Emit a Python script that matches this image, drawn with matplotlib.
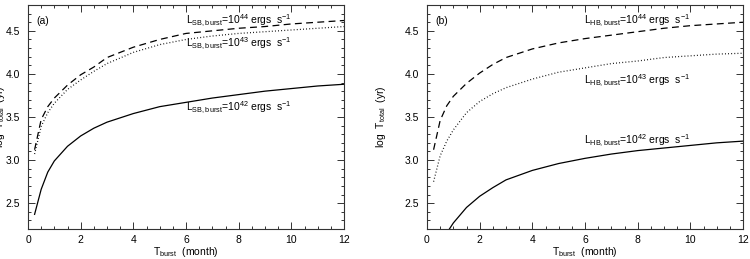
import numpy as np
import matplotlib
matplotlib.use("Agg")
import matplotlib.pyplot as plt
from matplotlib.ticker import MultipleLocator, FormatStrFormatter

plt.rcParams['font.family'] = ['Liberation Sans', 'DejaVu Sans']
plt.rcParams['mathtext.fontset'] = 'custom'
plt.rcParams['mathtext.rm'] = 'Liberation Sans'
plt.rcParams['font.size'] = 7.5

# burst duration (month)
t_burst = [0.25, 0.5, 0.75, 1, 1.5, 2, 2.5, 3, 4, 5, 6, 7, 8, 9, 10, 11, 12]

# panel (a): soft band luminosity
sb_42 = [2.37, 2.66, 2.86, 2.99, 3.16, 3.28, 3.37, 3.44, 3.54, 3.62, 3.67, 3.72, 3.76, 3.80, 3.83, 3.86, 3.88]
sb_43 = [3.07, 3.39, 3.55, 3.66, 3.82, 3.93, 4.03, 4.12, 4.25, 4.34, 4.40, 4.44, 4.47, 4.49, 4.51, 4.53, 4.55]
sb_44 = [3.12, 3.47, 3.62, 3.72, 3.87, 3.99, 4.08, 4.19, 4.31, 4.40, 4.47, 4.50, 4.53, 4.55, 4.58, 4.60, 4.62]

# panel (b): hard band luminosity
hb_43 = [2.75, 3.05, 3.22, 3.35, 3.55, 3.68, 3.77, 3.84, 3.94, 4.02, 4.07, 4.12, 4.15, 4.19, 4.21, 4.23, 4.24]
hb_44 = [3.12, 3.46, 3.63, 3.74, 3.89, 4.01, 4.11, 4.19, 4.29, 4.36, 4.41, 4.45, 4.49, 4.53, 4.56, 4.58, 4.60]
t_burst_hb42 = [0.85, 1, 1.5, 2, 2.5, 3, 4, 5, 6, 7, 8, 9, 10, 11, 12]
hb_42 = [2.20, 2.27, 2.45, 2.58, 2.68, 2.77, 2.88, 2.96, 3.02, 3.07, 3.11, 3.14, 3.17, 3.20, 3.22]

fig = plt.figure(figsize=(7.5, 2.59), dpi=100)
ax_a = fig.add_axes([28 / 750, 30 / 259, 316 / 750, 224 / 259])
ax_b = fig.add_axes([427 / 750, 30 / 259, 316 / 750, 224 / 259])

lw = 0.9
dash = (0, (5.5, 3.5))
dot = (0, (0.7, 1.8))

ax_a.plot(t_burst, sb_42, color='black', lw=lw)
ax_a.plot(t_burst, sb_43, color='black', lw=lw, linestyle=dot)
ax_a.plot(t_burst, sb_44, color='black', lw=lw, linestyle=dash)

ax_b.plot(t_burst_hb42, hb_42, color='black', lw=lw)
ax_b.plot(t_burst, hb_43, color='black', lw=lw, linestyle=dot)
ax_b.plot(t_burst, hb_44, color='black', lw=lw, linestyle=dash)

ax_a.text(6.0, 4.62, r'L$_{\rm SB,burst}$=10$^{44}$ ergs  s$^{-1}$', va='center', fontsize=7.5)
ax_a.text(6.0, 4.35, r'L$_{\rm SB,burst}$=10$^{43}$ ergs  s$^{-1}$', va='center', fontsize=7.5)
ax_a.text(6.0, 3.61, r'L$_{\rm SB,burst}$=10$^{42}$ ergs  s$^{-1}$', va='center', fontsize=7.5)

ax_b.text(5.95, 4.62, r'L$_{\rm HB,burst}$=10$^{44}$ ergs  s$^{-1}$', va='center', fontsize=7.5)
ax_b.text(5.95, 3.92, r'L$_{\rm HB,burst}$=10$^{43}$ ergs  s$^{-1}$', va='center', fontsize=7.5)
ax_b.text(5.95, 3.22, r'L$_{\rm HB,burst}$=10$^{42}$ ergs  s$^{-1}$', va='center', fontsize=7.5)

for ax, tag in [(ax_a, '(a)'), (ax_b, '(b)')]:
    ax.set_xlim(0, 12)
    ax.set_ylim(2.2, 4.8)
    ax.xaxis.set_major_locator(MultipleLocator(2))
    ax.xaxis.set_minor_locator(MultipleLocator(0.5))
    ax.yaxis.set_major_locator(MultipleLocator(0.5))
    ax.yaxis.set_minor_locator(MultipleLocator(0.1))
    ax.yaxis.set_major_formatter(FormatStrFormatter('%.1f'))
    ax.tick_params(which='both', direction='in', top=True, right=True, width=0.7, colors='#333333')
    ax.tick_params(which='major', length=5, pad=6, labelsize=7.5, labelcolor='black')
    ax.tick_params(axis='x', which='major', pad=4)
    ax.tick_params(which='minor', length=2.5)
    for sp in ax.spines.values():
        sp.set_linewidth(0.8)
        sp.set_color('#333333')
    ax.text(0.025, 0.93, tag, transform=ax.transAxes, va='center', ha='left', fontsize=7.5)
    ax.set_xlabel(r'T$_{\rm burst}$  (month)', fontsize=7.5)
    ax.set_ylabel(r'log  T$_{\rm total}$  (yr)', fontsize=7.5)
    ax.xaxis.set_label_coords(0.5, -0.072)

ax_a.yaxis.set_label_coords(-0.068, 0.5)
ax_b.yaxis.set_label_coords(-0.125, 0.5)

fig.savefig('out.png', dpi=100)
